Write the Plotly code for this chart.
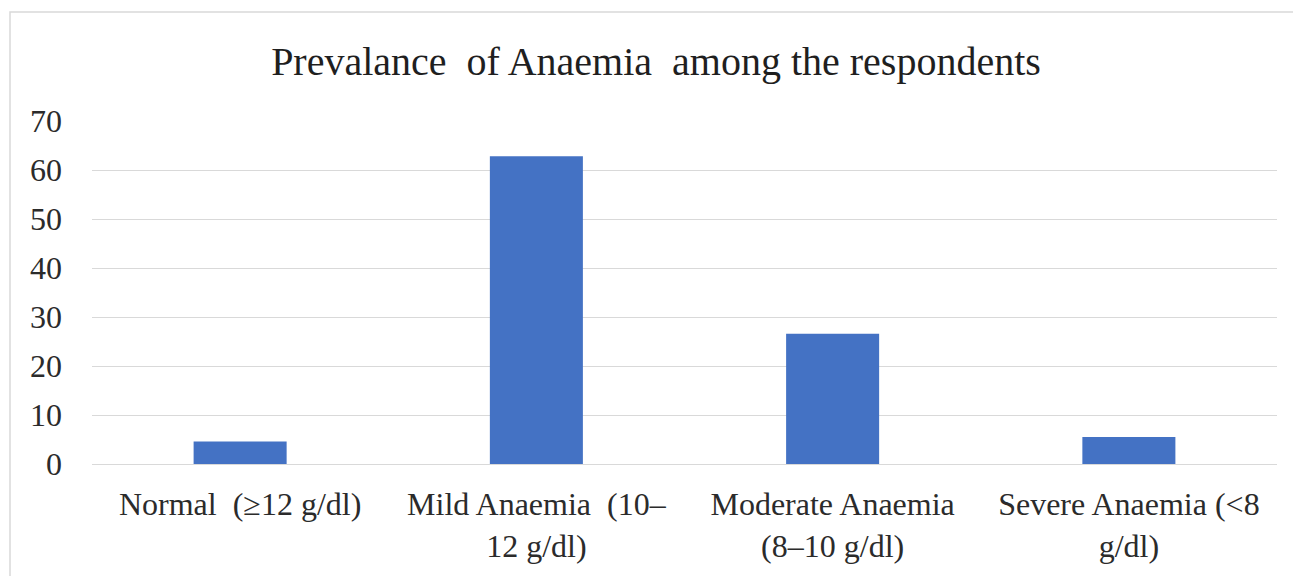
import plotly.graph_objects as go

categories = [
    "Normal\u00a0\u00a0(\u226512 g/dl)",
    "Mild Anaemia\u00a0\u00a0(10\u2013<br>12 g/dl)",
    "Moderate Anaemia<br>(8\u201310 g/dl)",
    "Severe Anaemia (&lt;8<br>g/dl)",
]
values = [4.6, 62.8, 26.6, 5.5]
y_ticks = [0, 10, 20, 30, 40, 50, 60, 70]

title_text = "Prevalance\u00a0\u00a0of Anaemia\u00a0\u00a0among the respondents"

fig = go.Figure(
    go.Bar(
        x=categories,
        y=values,
        marker=dict(color="#4472C4", line=dict(width=0)),
        hoverinfo="x+y",
    )
)

font_family = "Liberation Serif, Times New Roman, serif"

fig.update_layout(
    width=1293,
    height=576,
    margin=dict(l=92, r=16, t=121, b=112),
    paper_bgcolor="white",
    plot_bgcolor="white",
    bargap=0.686,
    showlegend=False,
    title=dict(
        text=title_text,
        x=656 / 1293,
        xref="container",
        y=1 - 61 / 576,
        yref="container",
        yanchor="middle",
        xanchor="center",
        font=dict(family=font_family, size=40, color="#1f1f1f"),
    ),
    font=dict(family=font_family, color="#2b2b2b"),
)

fig.update_yaxes(
    range=[0, 70],
    tickvals=y_ticks,
    showgrid=True,
    gridcolor="#d9d9d9",
    gridwidth=1,
    zeroline=False,
    showline=False,
    ticks="",
    ticklabelstandoff=29,
    tickfont=dict(family=font_family, size=32, color="#2b2b2b"),
)
fig.update_xaxes(
    showline=True,
    linecolor="#d9d9d9",
    linewidth=1,
    ticks="",
    tickfont=dict(family=font_family, size=32, color="#2b2b2b"),
    ticklabelstandoff=12,
)

# outer chart frame
fig.add_shape(
    type="rect",
    xref="paper",
    yref="paper",
    x0=(10 - 92) / 1185,
    x1=(1300 - 92) / 1185,
    y0=(464 - 590) / 343,
    y1=(464 - 12) / 343,
    line=dict(color="#d9d9d9", width=1.5),
    fillcolor="rgba(0,0,0,0)",
    layer="below",
)

fig.write_html(
    "out.html",
    config={"displayModeBar": False},
    post_script="document.body.style.margin='0';document.body.style.overflow='hidden';",
)
